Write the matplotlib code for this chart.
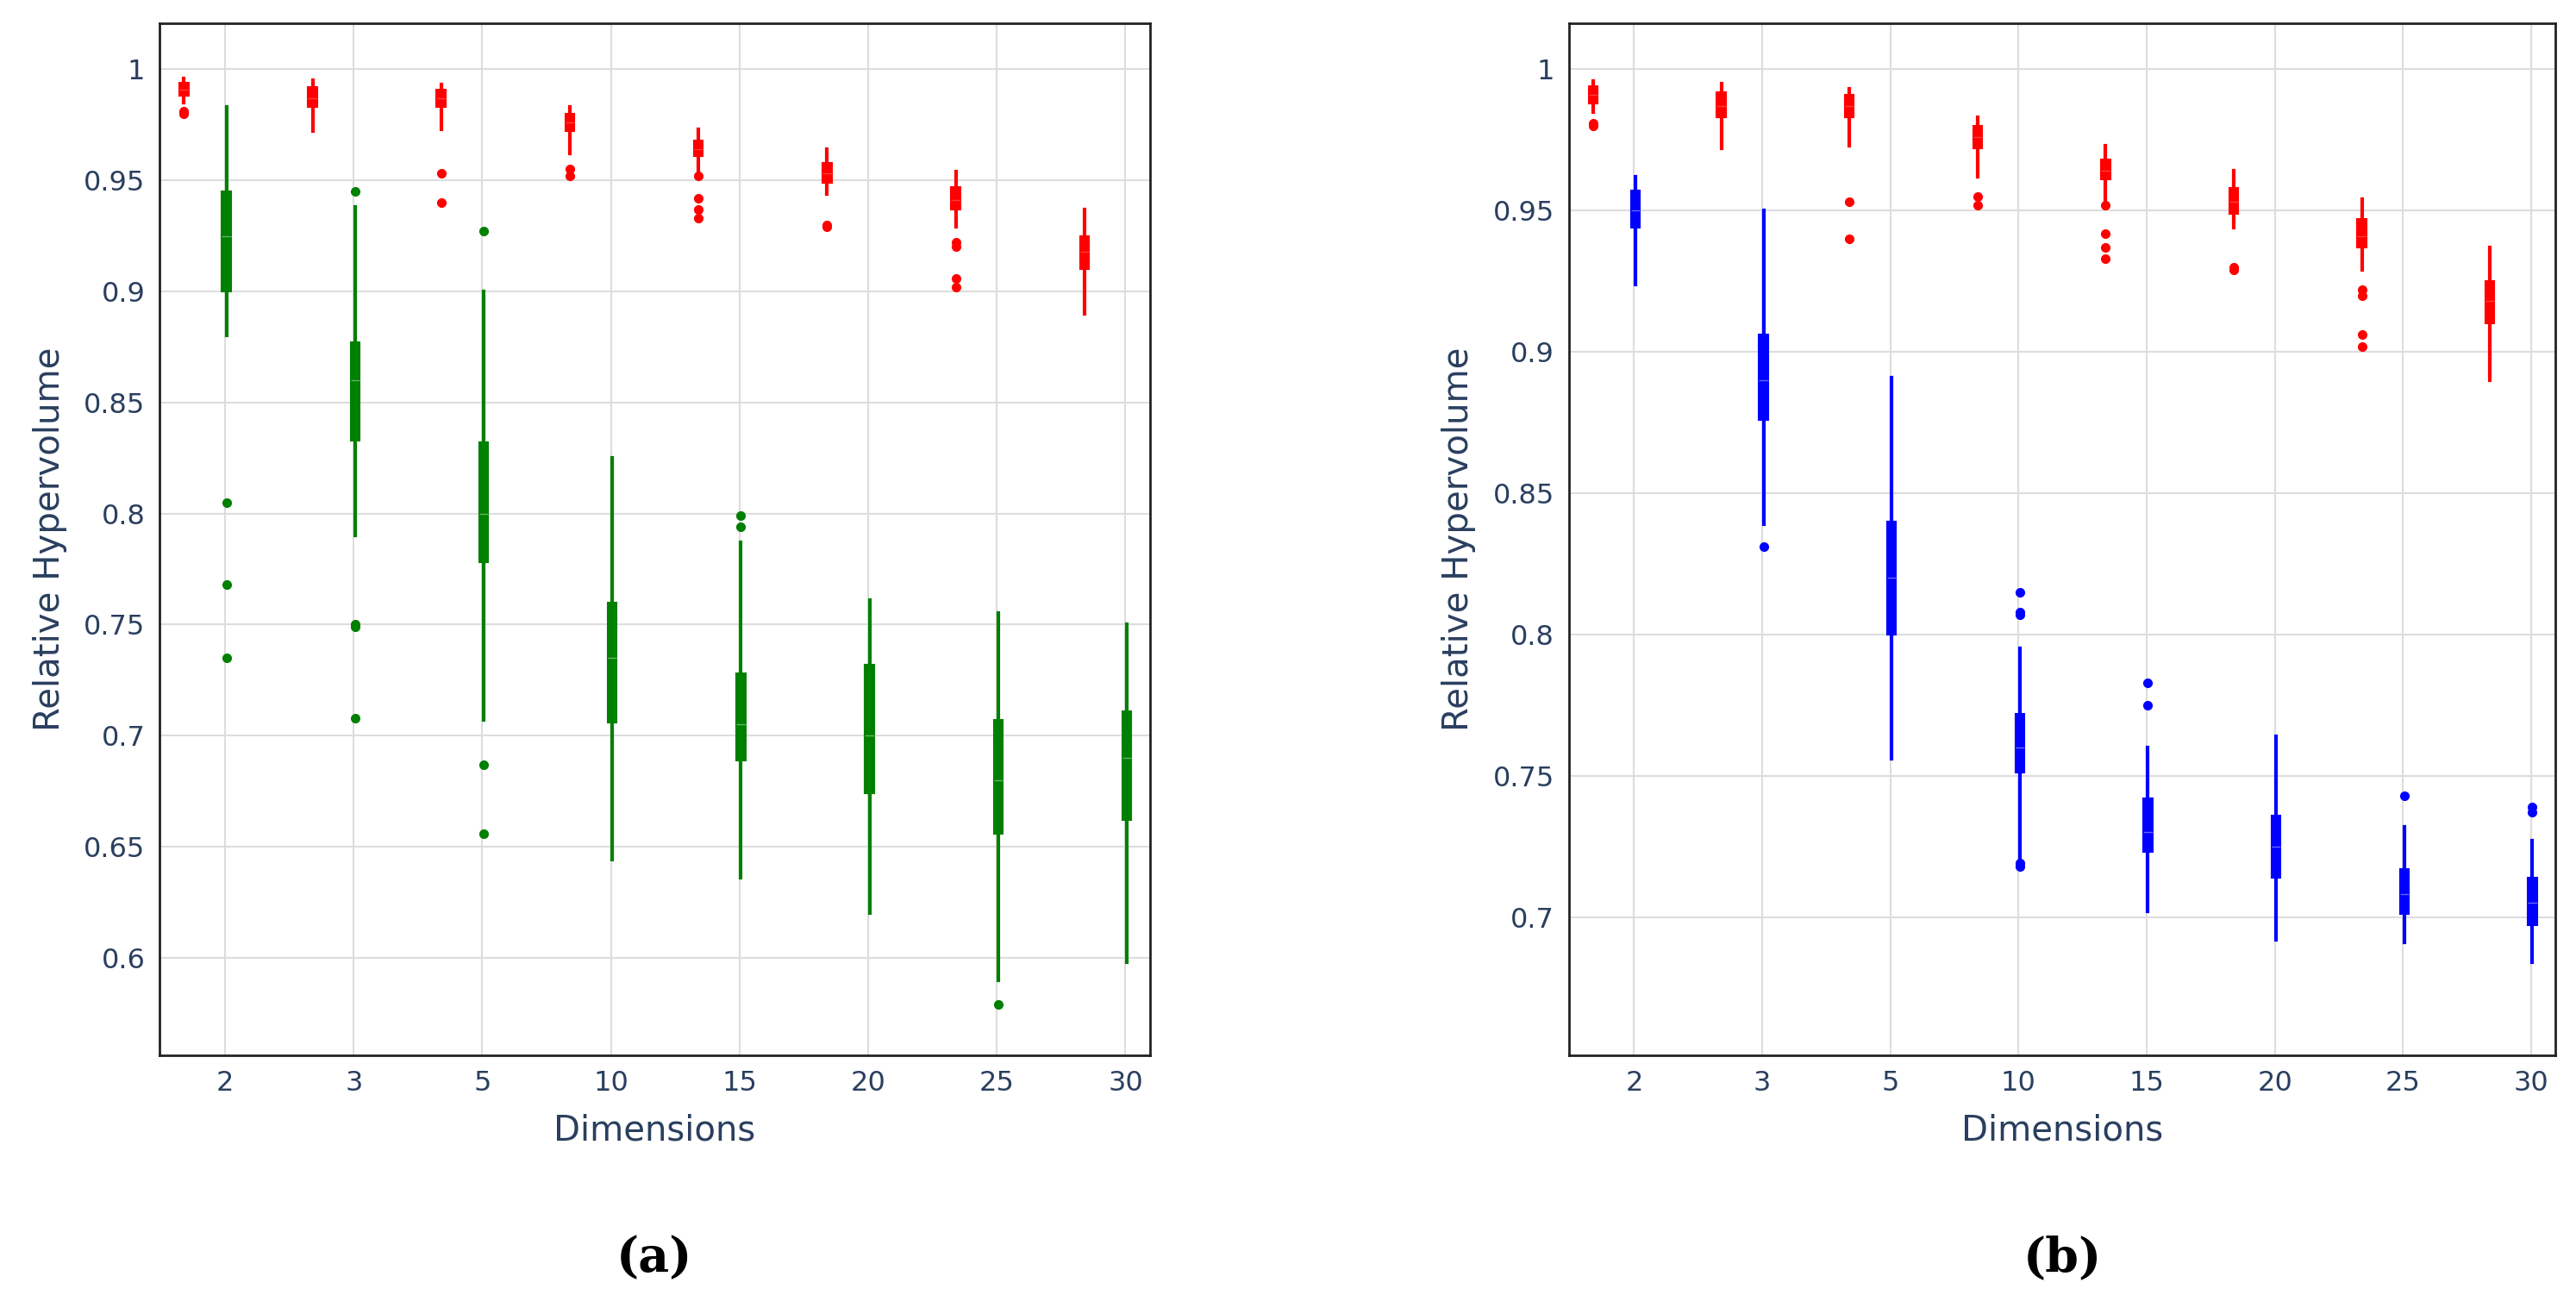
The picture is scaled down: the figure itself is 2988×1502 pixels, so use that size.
import matplotlib.pyplot as plt

dims = ['2', '3', '5', '10', '15', '20', '25', '30']

# (whislo, q1, med, q3, whishi, outliers)
red_stats = [
    (0.985, 0.988, 0.991, 0.994, 0.996, [0.981, 0.980]),
    (0.972, 0.983, 0.987, 0.992, 0.995, []),
    (0.973, 0.983, 0.987, 0.991, 0.993, [0.953, 0.940]),
    (0.962, 0.972, 0.976, 0.980, 0.983, [0.955, 0.952]),
    (0.953, 0.961, 0.964, 0.968, 0.973, [0.952, 0.942, 0.937, 0.933]),
    (0.944, 0.949, 0.953, 0.958, 0.964, [0.930, 0.929]),
    (0.929, 0.937, 0.941, 0.947, 0.954, [0.922, 0.920, 0.906, 0.902]),
    (0.890, 0.910, 0.918, 0.925, 0.937, []),
]
green_stats = [
    (0.880, 0.900, 0.925, 0.945, 0.983, [0.805, 0.768, 0.735]),
    (0.790, 0.833, 0.860, 0.877, 0.938, [0.945, 0.750, 0.749, 0.708]),
    (0.707, 0.778, 0.800, 0.832, 0.900, [0.927, 0.687, 0.656]),
    (0.644, 0.706, 0.735, 0.760, 0.825, []),
    (0.636, 0.689, 0.705, 0.728, 0.787, [0.799, 0.794]),
    (0.620, 0.674, 0.700, 0.732, 0.761, []),
    (0.590, 0.656, 0.680, 0.707, 0.755, [0.579]),
    (0.598, 0.662, 0.690, 0.711, 0.750, []),
]
blue_stats = [
    (0.924, 0.944, 0.950, 0.957, 0.962, []),
    (0.839, 0.876, 0.890, 0.906, 0.950, [0.831]),
    (0.756, 0.800, 0.820, 0.840, 0.891, []),
    (0.721, 0.751, 0.760, 0.772, 0.795, [0.815, 0.808, 0.807, 0.719, 0.718]),
    (0.702, 0.723, 0.730, 0.742, 0.760, [0.783, 0.775]),
    (0.692, 0.714, 0.725, 0.736, 0.764, []),
    (0.691, 0.701, 0.708, 0.717, 0.732, [0.743]),
    (0.684, 0.697, 0.705, 0.714, 0.727, [0.739, 0.737]),
]

TXT = '#2a3f5f'


def to_bxp(stats):
    return [dict(whislo=s[0], q1=s[1], med=s[2], q3=s[3], whishi=s[4], fliers=s[5]) for s in stats]


def draw(ax, stats, color, offset):
    pos = [i + offset for i in range(len(stats))]
    ax.bxp(to_bxp(stats), positions=pos, widths=0.07, patch_artist=True, showcaps=False,
           boxprops=dict(facecolor=color, edgecolor=color, linewidth=1.5),
           whiskerprops=dict(color=color, linewidth=3),
           medianprops=dict(color='#ff9999' if color == 'red' else '#ffffff', linewidth=1, alpha=0.4),
           flierprops=dict(marker='o', markerfacecolor=color, markeredgecolor=color, markersize=7))


fig = plt.figure(figsize=(29.88, 15.02), dpi=100)
panels = [
    ([0.0619, 0.185, 0.3845, 0.797], green_stats, 'green', (0.556, 1.0207),
     [0.6, 0.65, 0.7, 0.75, 0.8, 0.85, 0.9, 0.95, 1.0], '(a)'),
    ([0.609, 0.185, 0.383, 0.797], blue_stats, 'blue', (0.651, 1.0163),
     [0.7, 0.75, 0.8, 0.85, 0.9, 0.95, 1.0], '(b)'),
]
for rect, other, col, ylim, yt, cap in panels:
    ax = fig.add_axes(rect)
    ax.set_axisbelow(True)
    ax.grid(True, color='#dddddd', linewidth=1.5)
    draw(ax, red_stats, 'red', -0.32)
    draw(ax, other, col, 0.01)
    ax.set_xlim(-0.51, 7.19)
    ax.set_ylim(*ylim)
    ax.set_xticks(range(len(dims)))
    ax.set_xticklabels(dims)
    ax.set_yticks(yt)
    ax.set_yticklabels([f'{v:g}' for v in yt])
    ax.tick_params(labelsize=23, colors=TXT, length=0, pad=12)
    for s in ax.spines.values():
        s.set_linewidth(2)
        s.set_color('#222222')
    ax.set_xlabel('Dimensions', fontsize=29, color=TXT, labelpad=14)
    ax.set_ylabel('Relative Hypervolume', fontsize=29, color=TXT, labelpad=14)
    fig.text(rect[0] + rect[2] / 2, 0.01, cap, ha='center', va='bottom', fontsize=40,
             family='DejaVu Serif', weight='bold')

fig.savefig('out.png', dpi=100)
